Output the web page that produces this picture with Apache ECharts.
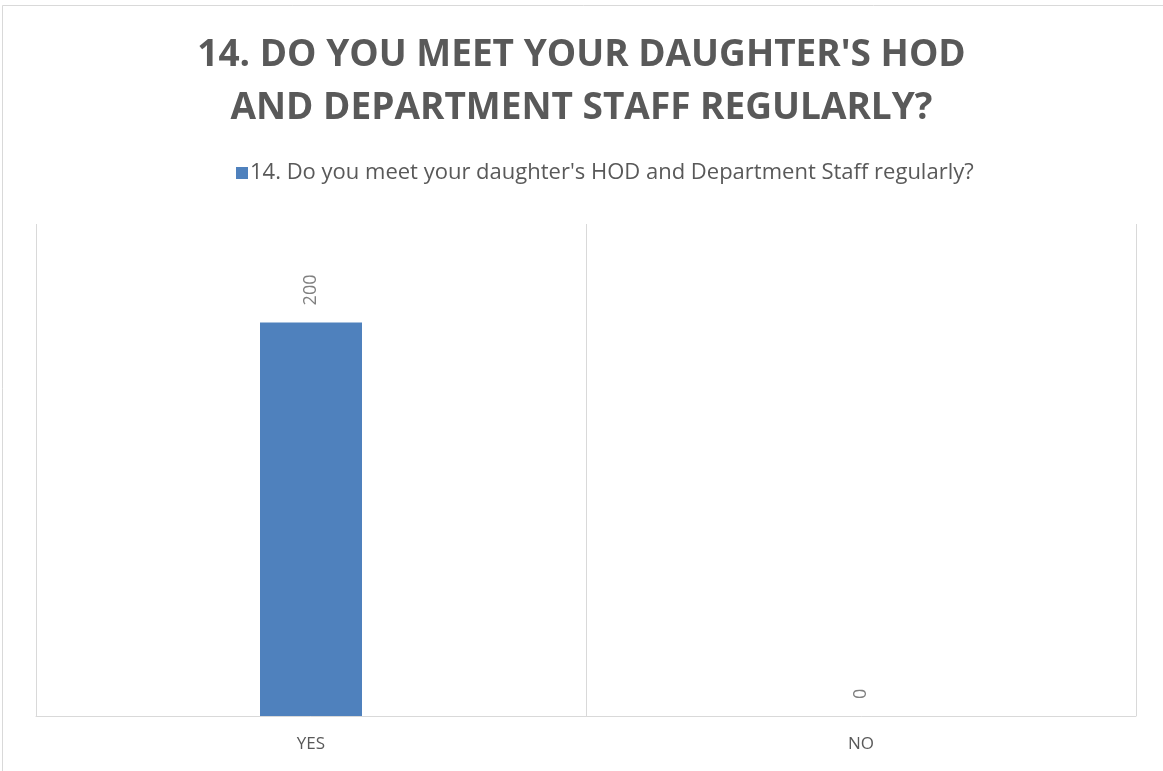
<!DOCTYPE html>
<html>
<head>
<meta charset="utf-8">
<script src="https://cdn.jsdelivr.net/npm/echarts@6/dist/echarts.min.js"></script>
<style>
html,body{margin:0;padding:0;background:#fff;}
#c{width:1163px;height:771px;}
</style>
</head>
<body>
<div id="c"></div>
<script>
const titleText = "14. DO YOU MEET YOUR DAUGHTER'S HOD\nAND DEPARTMENT STAFF REGULARLY?";
const seriesName = "14. Do you meet your daughter's HOD and Department Staff regularly?";
const categories = ["YES", "NO"];
const values = [200, 0];

const chart = echarts.init(document.getElementById('c'), null, {renderer: 'canvas'});
chart.setOption({
  animation: false,
  backgroundColor: '#ffffff',
  graphic: [{
    type: 'rect',
    shape: {x: 2.5, y: 5.5, width: 1180, height: 800},
    style: {fill: 'none', stroke: '#d9d9d9', lineWidth: 1},
    silent: true, z: -1
  }],
  title: {
    text: titleText,
    left: 'center',
    top: 29,
    padding: 0,
    textStyle: {
      fontFamily: 'Open Sans',
      fontWeight: 'bold',
      fontSize: 37,
      color: '#595959',
      lineHeight: 53
    }
  },
  legend: {
    top: 162,
    left: 236,
    itemWidth: 12,
    itemHeight: 12,
    itemGap: 10,
    icon: 'rect',
    padding: 0,
    textStyle: {fontFamily: 'Open Sans', fontSize: 22, color: '#595959', padding: [0,0,0,-3]},
    data: [seriesName]
  },
  grid: {left: 36, right: 27, top: 224, bottom: 55, containLabel: false},
  xAxis: {
    type: 'category',
    data: categories,
    axisLine: {lineStyle: {color: '#d9d9d9', width: 1}},
    axisTick: {show: false},
    splitLine: {show: true, interval: 0, lineStyle: {color: '#d9d9d9', width: 1}},
    axisLabel: {fontFamily: 'Open Sans', fontSize: 17, color: '#595959', margin: 20}
  },
  yAxis: {
    type: 'value',
    min: 0,
    max: 250,
    show: false,
    splitLine: {show: false}
  },
  series: [{
    name: seriesName,
    type: 'bar',
    data: values,
    barWidth: 102,
    itemStyle: {color: '#4f81bd'},
    label: {
      show: true,
      position: 'top',
      rotate: 90,
      align: 'left',
      verticalAlign: 'middle',
      distance: 17,
      fontFamily: 'Open Sans',
      fontSize: 18,
      color: '#7f7f7f'
    }
  }]
});
</script>
</body>
</html>
